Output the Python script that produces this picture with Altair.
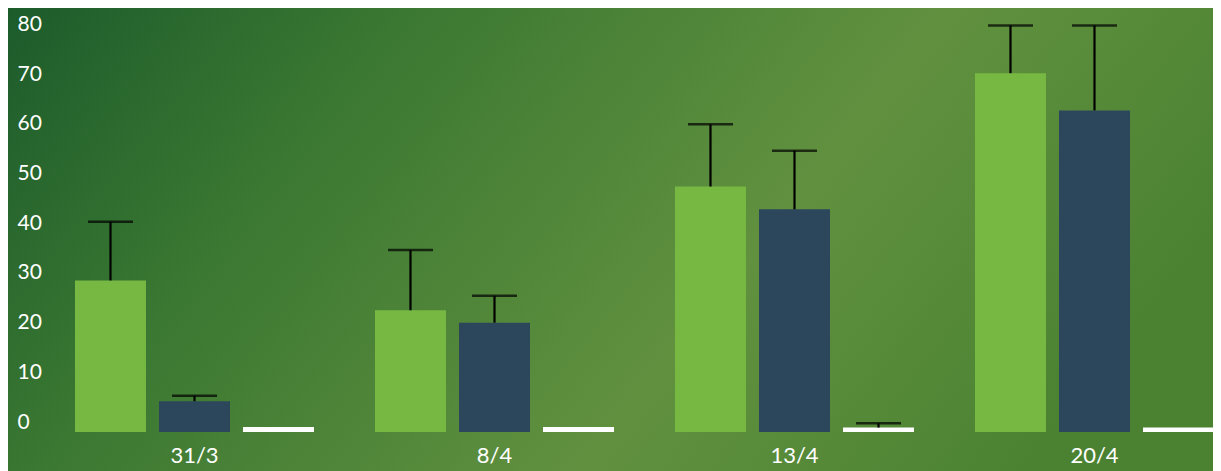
import altair as alt
import pandas as pd

dates = ["31/3", "8/4", "13/4", "20/4"]
series = ["A", "B", "C"]
colors = ["#77B843", "#2C465C", "#FFFFFF"]

values_a = [30.5, 24.5, 49.4, 72.2]
upper_a = [42.3, 36.6, 61.9, 81.8]
values_b = [6.2, 22.0, 44.8, 64.7]
upper_b = [7.3, 27.4, 56.6, 81.8]
values_c = [1.0, 1.0, 0.9, 0.9]
upper_c = [1.0, 1.0, 1.75, 0.9]

rows = []
for s, vals, ups in [("A", values_a, upper_a), ("B", values_b, upper_b), ("C", values_c, upper_c)]:
    for d, v, u in zip(dates, vals, ups):
        rows.append({"date": d, "series": s, "value": v, "upper": u})
df = pd.DataFrame(rows)
err = df[df["upper"] > df["value"] + 0.2]

x_enc = alt.X("date:N", sort=dates,
              scale=alt.Scale(range=[0, 1200], paddingInner=0, paddingOuter=0),
              axis=alt.Axis(title=None, labelAngle=0, domain=False, ticks=False,
                            labelColor="white", labelFontSize=22, labelFont="Lato",
                            labelPadding=13, zindex=2))
xoff = alt.XOffset("series:N", sort=series,
                   scale=alt.Scale(paddingInner=0.155, paddingOuter=0.363))
y_scale = alt.Scale(domain=[0, 84], nice=False)

bg = alt.Chart(pd.DataFrame({"k": [0]})).mark_rect(
    color=alt.Gradient(
        gradient="linear", x1=0, y1=0, x2=1, y2=0.3,
        stops=[alt.GradientStop(offset=0, color="#1A5A2B"),
               alt.GradientStop(offset=0.3, color="#3B7832"),
               alt.GradientStop(offset=0.68, color="#61913F"),
               alt.GradientStop(offset=1, color="#4A8232")])
).encode(x=alt.value(-50), x2=alt.value(1250), y=alt.value(-20), y2=alt.value(470))

bars = alt.Chart(df).mark_bar().encode(
    x=x_enc,
    xOffset=xoff,
    y=alt.Y("value:Q", scale=y_scale,
            axis=alt.Axis(title=None, values=[0, 10, 20, 30, 40, 50, 60, 70, 80],
                          domain=False, ticks=False, grid=False,
                          labelColor="white", labelFontSize=21, labelFont="Lato",
                          labelAlign="left", labelPadding=27.5, labelOffset=-10,
                          zindex=2)),
    color=alt.Color("series:N", sort=series,
                    scale=alt.Scale(domain=series, range=colors), legend=None),
)

rules = alt.Chart(err).mark_rule(color="black", strokeWidth=2.2).encode(
    x=alt.X("date:N", sort=dates),
    xOffset=alt.XOffset("series:N", sort=series),
    y=alt.Y("value:Q"),
    y2="upper:Q",
)

caps = alt.Chart(err).mark_tick(color="black", thickness=2.5, size=45, orient="horizontal").encode(
    x=alt.X("date:N", sort=dates),
    xOffset=alt.XOffset("series:N", sort=series),
    y=alt.Y("upper:Q"),
)

chart = alt.layer(bg, bars, rules, caps).properties(
    width=1168.5, height=417.5,
    autosize=alt.AutoSizeParams(type="none"),
    padding={"left": 36.5, "top": 6.5, "right": 0, "bottom": 40},
    background="#3A7431",
).configure_view(stroke=None)

chart.save("out.html", embed_options={"renderer": "svg", "actions": False})
